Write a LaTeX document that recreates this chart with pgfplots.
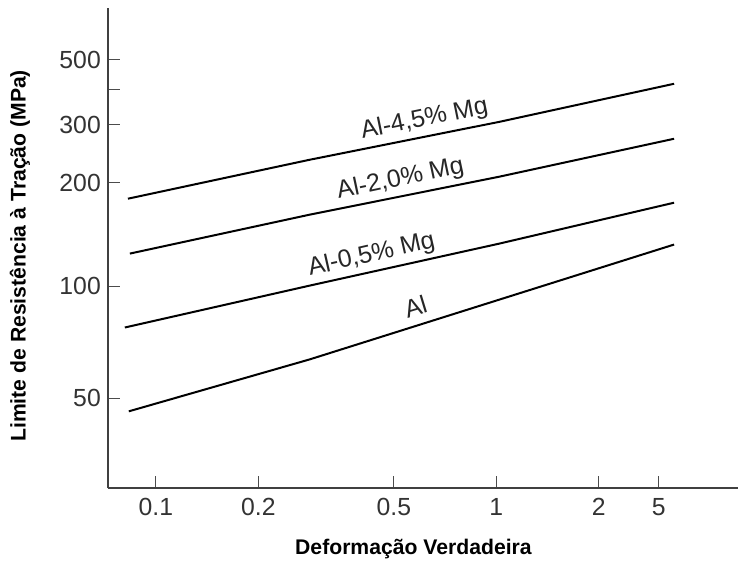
\documentclass[border=0pt]{standalone}
\usepackage{fontspec}
\setmainfont{Liberation Sans}
\usepackage{pgfplots}
\pgfplotsset{compat=1.18}
\begin{document}
\begin{tikzpicture}
\begin{axis}[
  at={(0,0)}, anchor=south west,
  scale only axis, width=315.5pt, height=240.5pt,
  xmode=log, ymode=log,
  xmin=0.0723, xmax=5.125, ymin=27.13, ymax=711.6,
  axis x line=bottom, axis y line=left,
  axis line style={-, draw=black!75, line width=1pt},
  xtick={0.1,0.2,0.5,1,2,3}, xticklabels={0.1,0.2,0.5,1,2,5},
  ytick={50,107.3,216.8,321.6,409,500}, yticklabels={50,100,200,300,,500},
  xminorticks=false, yminorticks=false,
  tick align=inside, major tick length=6pt,
  tick style={draw=black!70, line width=0.6pt},
  /pgf/number format/assume math mode=true,
  tick label style={font=\fontsize{12.4}{14}\selectfont, text=black!80},
  xticklabel style={anchor=north, text height=9pt, text depth=0pt, yshift=-1pt},
  xlabel={Deformação Verdadeira},
  ylabel={Limite de Resistência à Tração (MPa)},
  label style={font=\bfseries\fontsize{10.6}{12}\selectfont},
  xlabel style={at={(axis description cs:0.485,-0.127)}, anchor=center},
  ylabel style={at={(axis description cs:-0.1395,0.484)}, anchor=center},
  clip=false,
]
\addplot[black, line width=1pt] coordinates {(0.0828,194.5) (0.283,253.5) (1.020,328) (3.327,425)};
\addplot[black, line width=1pt] coordinates {(0.0839,133.9) (0.283,174.5) (1.020,225.9) (3.327,292.4)};
\addplot[black, line width=1pt] coordinates {(0.0811,81.0) (0.283,107.7) (1.020,143.3) (3.327,189.3)};
\addplot[black, line width=1pt] coordinates {(0.0833,45.8) (0.283,65.2) (1.020,97.9) (3.327,142.4)};
\node[rotate=11.5, text=black!85, inner sep=1pt, font=\fontsize{12.5}{14}\selectfont] at (axis cs:0.615,333) {Al-4,5\% Mg};
\node[rotate=12, text=black!85, inner sep=1pt, font=\fontsize{12.5}{14}\selectfont] at (axis cs:0.523,222) {Al-2,0\% Mg};
\node[rotate=12.8, text=black!85, inner sep=1pt, font=\fontsize{12.5}{14}\selectfont] at (axis cs:0.430,132.5) {Al-0,5\% Mg};
\node[rotate=17, text=black!85, inner sep=1pt, font=\fontsize{12.5}{14}\selectfont] at (axis cs:0.579,93.5) {Al};
\end{axis}
\path (current axis.south west) ++(-54pt,-36.5pt) rectangle ++(369.5pt,281pt);
\end{tikzpicture}
\end{document}
